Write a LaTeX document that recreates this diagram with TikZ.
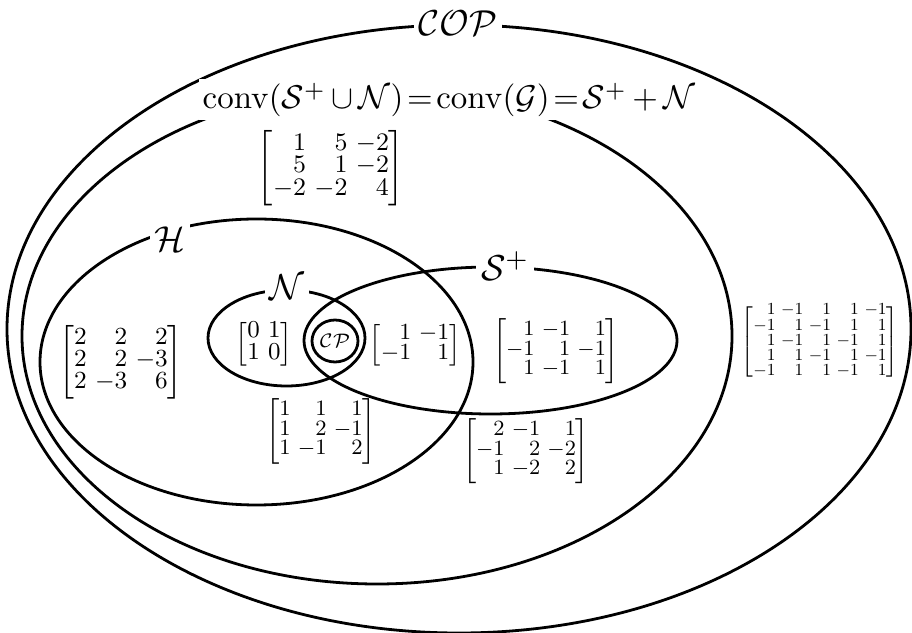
\documentclass[tikz,border=0pt]{standalone}
\usepackage{mathtools}
\usepackage{graphicx}
\newcommand{\mtx}[2]{\scalebox{#1}{\fontsize{9}{11}\selectfont$\setlength{\arraycolsep}{1.5pt}\renewcommand{\arraystretch}{0.7}\begin{bmatrix*}[r]#2\end{bmatrix*}$}}
\tikzset{
  setline/.style={line width=0.85pt},
  setlabel/.style={fill=white, inner sep=1.5pt, font=\fontsize{11}{13}\selectfont},
  biglabel/.style={fill=white, inner sep=1pt, font=\fontsize{10}{12}\selectfont},
  mat/.style={inner sep=0pt},
}
\begin{document}
\begin{tikzpicture}[x=0.304pt,y=-0.304pt]
\useasboundingbox (0,0) rectangle (912,633);
% sets
\draw[setline] (459,329) ellipse [x radius=452, y radius=304];
\draw[setline] (377,336) ellipse [x radius=355, y radius=248];
\draw[setline] (256.5,362) ellipse [x radius=216.5, y radius=143];
\draw[setline] (286.5,338) ellipse [x radius=78.5, y radius=48];
\draw[setline] (490.5,340.5) ellipse [x radius=186.5, y radius=73.5];
\draw[setline] (335,341) ellipse [x radius=23, y radius=21];
% labels
\node[setlabel] (cop) at (458,23) {$\mathcal{COP}$};
\node[biglabel] (conv) at (449,100) {$\thickmuskip=2mu\medmuskip=3mu\mathrm{conv}(\mathcal{S}^+\cup\mathcal{N})=\mathrm{conv}(\mathcal{G})=\mathcal{S}^+ + \mathcal{N}$};
\node[setlabel] (h) at (170,239) {$\mathcal{H}$};
\node[setlabel] (n) at (287,287) {$\mathcal{N}$};
\node[setlabel] (s) at (505,266) {$\mathcal{S}^+$};
\node[mat] (cp) at (335,341) {\scalebox{0.85}{$\scriptstyle\mathcal{CP}$}};
% matrices
\node[mat] (m1) at (331,168) {\mtx{0.85}{1 & 5 & -2\\ 5 & 1 & -2\\ -2 & -2 & 4}};
\node[mat] (m2) at (121,362) {\mtx{0.83}{2 & 2 & 2\\ 2 & 2 & -3\\ 2 & -3 & 6}};
\node[mat] (m3) at (264,344) {\mtx{0.82}{0 & 1\\ 1 & 0}};
\node[mat] (m4) at (415,345) {\mtx{0.78}{1 & -1\\ -1 & 1}};
\node[mat] (m5) at (556,351) {\mtx{0.733}{1 & -1 & 1\\ -1 & 1 & -1\\ 1 & -1 & 1}};
\node[mat] (m6) at (321,431) {\mtx{0.74}{1 & 1 & 1\\ 1 & 2 & -1\\ 1 & -1 & 2}};
\node[mat] (m7) at (526,451) {\mtx{0.733}{2 & -1 & 1\\ -1 & 2 & -2\\ 1 & -2 & 2}};
\node[mat] (m8) at (820,342) {\mtx{0.57}{1 & -1 & 1 & 1 & -1\\ -1 & 1 & -1 & 1 & 1\\ 1 & -1 & 1 & -1 & 1\\ 1 & 1 & -1 & 1 & -1\\ -1 & 1 & 1 & -1 & 1}};
\end{tikzpicture}
\end{document}
